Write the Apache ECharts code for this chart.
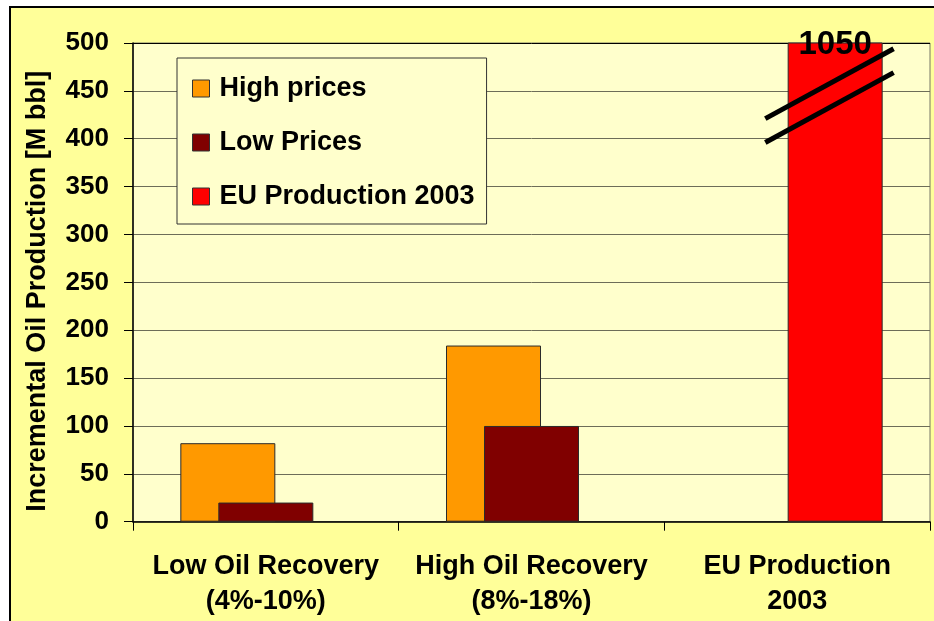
<!DOCTYPE html>
<html>
<head>
<meta charset="utf-8">
<script src="https://cdn.jsdelivr.net/npm/echarts@6/dist/echarts.min.js"></script>
<style>
  html, body { margin: 0; padding: 0; background: #ffffff; overflow: hidden; }
  #frame {
    position: absolute; left: 9px; top: 6px; width: 960px; height: 640px;
    background: #FFFF99; border: 2px solid #000; box-sizing: border-box;
  }
  #chart { position: absolute; left: 0; top: 0; width: 934px; height: 621px; }
</style>
</head>
<body>
<div id="frame"></div>
<div id="chart"></div>
<script>
// Incremental oil production scenarios vs. EU production in 2003
const categories = ['Low Oil Recovery\n(4%-10%)', 'High Oil Recovery\n(8%-18%)', 'EU Production\n2003'];
const seriesNames = ['High prices', 'Low Prices', 'EU Production 2003'];
const highPrices = [82, 184, null];
const lowPrices = [20, 100, null];
const euProduction = [null, null, 1050];
const yTicks = { min: 0, max: 500, interval: 50 };
const axisTitle = 'Incremental Oil Production [M bbl]';

const FONT = '"Liberation Sans", Arial, Helvetica, sans-serif';

// Axis-break strokes on the EU bar, in value units along y and
// fractions of a category width along x (relative to the category centre).
const breakStrokes = [
  { dx0: -0.12, v0: 421, dx1: 0.363, v1: 494 },
  { dx0: -0.12, v0: 396, dx1: 0.363, v1: 469 }
];

const chart = echarts.init(document.getElementById('chart'), null, { renderer: 'canvas' });

const gridLineColors = [];
for (let v = yTicks.min; v <= yTicks.max; v += yTicks.interval) {
  gridLineColors.push(v === yTicks.max ? '#000000' : '#6d6d58');
}

const barBase = {
  type: 'bar',
  barWidth: 95,
  barGap: '-60%',
  itemStyle: { borderColor: '#2b2b2b', borderWidth: 1 }
};

const option = {
  backgroundColor: 'transparent',
  animation: false,
  textStyle: { fontFamily: FONT },
  grid: {
    left: 133, top: 43, width: 797, height: 478.7,
    show: true, backgroundColor: '#FFFFCC', borderColor: '#777766', borderWidth: 1
  },
  legend: {
    left: 177, top: 58,
    orient: 'vertical',
    itemWidth: 17, itemHeight: 17,
    itemGap: 27,
    padding: [17, 12, 14, 15],
    backgroundColor: '#FFFFCC',
    borderColor: '#333333', borderWidth: 1,
    icon: 'rect',
    itemStyle: { borderColor: '#333333', borderWidth: 1 },
    textStyle: { fontFamily: FONT, fontSize: 27, fontWeight: 'bold', color: '#000', padding: [0, 0, 0, 5] },
    data: seriesNames
  },
  xAxis: {
    type: 'category',
    data: categories,
    axisLine: { lineStyle: { color: '#000', width: 1.5 } },
    axisTick: { show: true, length: 9, lineStyle: { color: '#000' } },
    axisLabel: {
      interval: 0, margin: 27,
      fontFamily: FONT, fontSize: 27, fontWeight: 'bold', color: '#000', lineHeight: 35
    }
  },
  yAxis: {
    type: 'value',
    min: yTicks.min, max: yTicks.max, interval: yTicks.interval,
    name: axisTitle,
    nameLocation: 'middle',
    nameGap: 82,
    nameTextStyle: { fontFamily: FONT, fontSize: 27, fontWeight: 'bold', color: '#000', padding: [0, 18, 0, 0] },
    axisLine: { show: true, lineStyle: { color: '#000', width: 1.5 } },
    axisTick: { show: true, length: 9, lineStyle: { color: '#000' } },
    axisLabel: { margin: 24, fontFamily: FONT, fontSize: 26, fontWeight: 'bold', color: '#000' },
    splitLine: { show: true, lineStyle: { color: gridLineColors, width: 1 } }
  },
  series: [
    Object.assign({}, barBase, {
      name: seriesNames[0], data: highPrices,
      itemStyle: Object.assign({}, barBase.itemStyle, { color: '#FF9900' })
    }),
    Object.assign({}, barBase, {
      name: seriesNames[1], data: lowPrices,
      itemStyle: Object.assign({}, barBase.itemStyle, { color: '#800000' })
    }),
    Object.assign({}, barBase, {
      name: seriesNames[2], data: euProduction,
      itemStyle: Object.assign({}, barBase.itemStyle, { color: '#FF0000' }),
      label: {
        show: true, position: 'insideTop', distance: -14,
        fontFamily: FONT, fontSize: 33, fontWeight: 'bold', color: '#000',
        formatter: p => String(p.value)
      }
    })
  ]
};

chart.setOption(option);

// Draw the break strokes across the clipped EU bar
function drawBreaks() {
  const idx = euProduction.findIndex(v => v != null);
  const c0 = chart.convertToPixel({ gridIndex: 0 }, [0, 0]);
  const c1 = chart.convertToPixel({ gridIndex: 0 }, [1, 0]);
  const catW = c1[0] - c0[0];
  const els = breakStrokes.map(s => {
    const p0 = chart.convertToPixel({ gridIndex: 0 }, [idx, s.v0]);
    const p1 = chart.convertToPixel({ gridIndex: 0 }, [idx, s.v1]);
    return {
      type: 'line', z: 100,
      shape: { x1: p0[0] + s.dx0 * catW, y1: p0[1], x2: p1[0] + s.dx1 * catW, y2: p1[1] },
      style: { stroke: '#000', lineWidth: 5 }
    };
  });
  chart.setOption({ graphic: els });
}
drawBreaks();
</script>
</body>
</html>
